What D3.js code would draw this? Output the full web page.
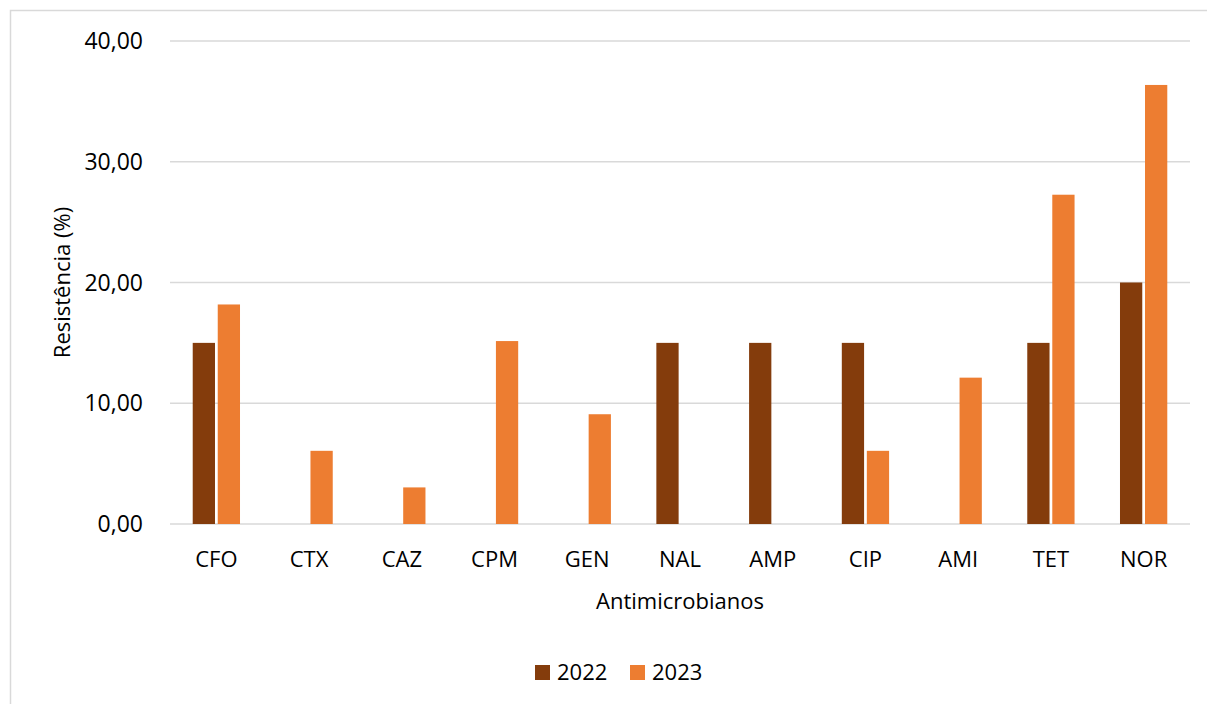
<!DOCTYPE html>
<html>
<head>
<meta charset="utf-8">
<script src="https://cdn.jsdelivr.net/npm/d3@7"></script>
<style>
	body{margin:0;background:#fff;}
	svg text{font-family:"Open Sans",Calibri,sans-serif;fill:#000;}
</style>
</head>
<body>
<svg id="chart" width="1207" height="704"></svg>
<script>
'use strict'
var categories = ['CFO','CTX','CAZ','CPM','GEN','NAL','AMP','CIP','AMI','TET','NOR'];
var years = ['2022','2023'];
var values2022 = [15.00, 0, 0, 0, 0, 15.00, 15.00, 15.00, 0, 15.00, 20.00];
var values2023 = [18.18, 6.06, 3.03, 15.15, 9.09, 0, 0, 6.06, 12.12, 27.27, 36.36];
var yTicks = [0, 10, 20, 30, 40];
var colors = ['#843C0C', '#ED7D31'];

var svg = d3.select('#chart');
var m = {left: 170, right: 1190, top: 41, bottom: 524};

// frame
svg.append('rect')
	.attr('x', 10.5).attr('y', 10.5)
	.attr('width', 1210).attr('height', 710)
	.attr('fill', 'none').attr('stroke', '#d9d9d9').attr('stroke-width', 1.5);

var x = d3.scaleBand().domain(categories).range([m.left, m.right]).paddingInner(0.49).paddingOuter(0.245);
var xs = d3.scaleBand().domain(years).range([0, x.bandwidth()]).paddingInner(0.11);
var y = d3.scaleLinear().domain([0, 40]).range([m.bottom, m.top]);

// gridlines
svg.append('g').selectAll('line').data(yTicks).join('line')
	.attr('x1', m.left).attr('x2', m.right)
	.attr('y1', function(d){ return y(d); }).attr('y2', function(d){ return y(d); })
	.attr('stroke', '#d9d9d9').attr('stroke-width', 1.5);

// y tick labels
svg.append('g').selectAll('text').data(yTicks).join('text')
	.attr('x', 143).attr('y', function(d){ return y(d); })
	.attr('dy', '0.35em').attr('text-anchor', 'end')
	.style('font-size', '23px')
	.text(function(d){ return d3.format('.2f')(d).replace('.', ','); });

// bars
var series = [values2022, values2023];
var groups = svg.append('g').selectAll('g').data(years).join('g')
	.attr('fill', function(d, i){ return colors[i]; });
groups.selectAll('rect')
	.data(function(yr, i){ return categories.map(function(c, j){ return {cat: c, yr: yr, v: series[i][j]}; }); })
	.join('rect')
	.attr('x', function(d){ return x(d.cat) + xs(d.yr); })
	.attr('width', xs.bandwidth())
	.attr('y', function(d){ return y(d.v); })
	.attr('height', function(d){ return y(0) - y(d.v); });

// category labels
svg.append('g').selectAll('text').data(categories).join('text')
	.attr('x', function(d){ return x(d) + x.bandwidth() / 2; })
	.attr('y', 559).attr('dy', '0.35em').attr('text-anchor', 'middle')
	.style('font-size', '22px')
	.text(function(d){ return d; });

// axis titles
svg.append('text')
	.attr('x', (m.left + m.right) / 2).attr('y', 601).attr('dy', '0.35em')
	.attr('text-anchor', 'middle').style('font-size', '22px')
	.text('Antimicrobianos');
svg.append('text')
	.attr('transform', 'translate(62,' + ((m.top + m.bottom) / 2) + ') rotate(-90)')
	.attr('dy', '0.35em').attr('text-anchor', 'middle').style('font-size', '22px')
	.text('Resistência (%)');

// legend
var legendX = [535, 630];
var legend = svg.append('g').selectAll('g').data(years).join('g')
	.attr('transform', function(d, i){ return 'translate(' + legendX[i] + ',665)'; });
legend.append('rect').attr('width', 15).attr('height', 15)
	.attr('fill', function(d, i){ return colors[i]; });
legend.append('text').attr('x', 22).attr('y', 7.5).attr('dy', '0.35em')
	.style('font-size', '22px')
	.text(function(d){ return d; });
</script>
</body>
</html>
